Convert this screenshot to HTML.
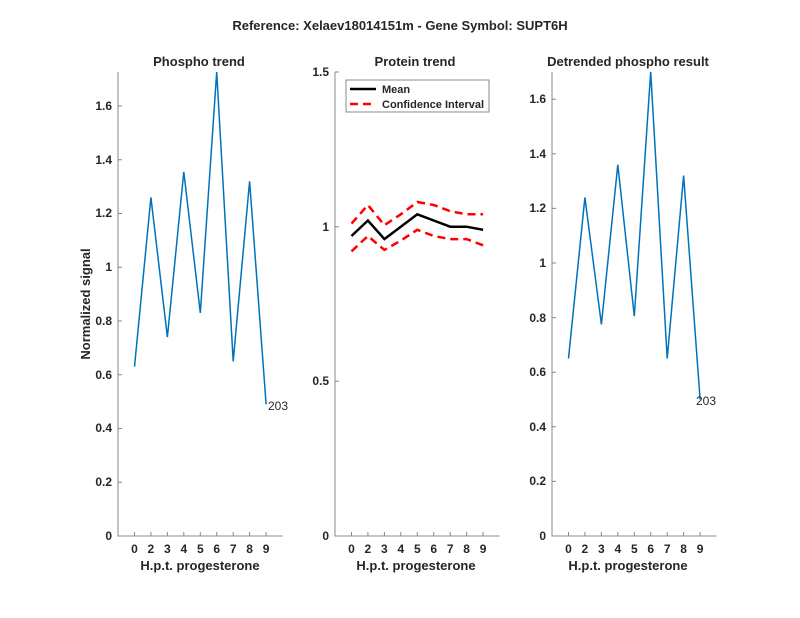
<!DOCTYPE html>
<html><head><style>body{margin:0;background:#fff}svg{display:block}text{font-family:"Liberation Sans",Arial,sans-serif;fill:#262626}</style></head><body>
<svg width="800" height="618" viewBox="0 0 800 618">
<text x="400" y="30" text-anchor="middle" font-size="13" font-weight="bold">Reference:  Xelaev18014151m - Gene Symbol:  SUPT6H</text>
<g font-size="12" font-weight="bold" stroke="none">
<text x="199" y="66" text-anchor="middle" font-size="13">Phospho trend</text>
<path d="M118 72V536H282.5" fill="none" stroke="#888" stroke-width="1"/>
<g stroke="#888"><path d="M118 536h4M118 482.25h4M118 428.5h4M118 374.75h4M118 321h4M118 267.25h4M118 213.5h4M118 159.75h4M118 106h4"/>
<path d="M134.5 536v-4M150.9 536v-4M167.4 536v-4M183.8 536v-4M200.3 536v-4M216.7 536v-4M233.2 536v-4M249.6 536v-4M266.1 536v-4"/></g>
<g text-anchor="end"><text x="112" y="540">0</text><text x="112" y="486">0.2</text><text x="112" y="432">0.4</text><text x="112" y="379">0.6</text><text x="112" y="325">0.8</text><text x="112" y="271">1</text><text x="112" y="217">1.2</text><text x="112" y="164">1.4</text><text x="112" y="110">1.6</text></g>
<g text-anchor="middle"><text x="134.5" y="553">0</text><text x="150.9" y="553">2</text><text x="167.4" y="553">3</text><text x="183.8" y="553">4</text><text x="200.3" y="553">5</text><text x="216.7" y="553">6</text><text x="233.2" y="553">7</text><text x="249.6" y="553">8</text><text x="266.1" y="553">9</text>
<text x="200" y="570" font-size="13">H.p.t. progesterone</text></g>
<text transform="translate(90,304) rotate(-90)" text-anchor="middle" font-size="13">Normalized signal</text>
<polyline points="134.5,366.7 150.9,197.4 167.4,337.1 183.8,171.8 200.3,312.9 216.7,72 233.2,361.3 249.6,181.3 266.1,404.3" fill="none" stroke="#0072BD" stroke-width="1.5"/>
<text x="268" y="410" font-weight="normal" font-size="12" fill="#000">203</text>

<text x="415" y="66" text-anchor="middle" font-size="13">Protein trend</text>
<path d="M335 72V536H499.5" fill="none" stroke="#888"/>
<g stroke="#888"><path d="M335 536h4M335 381.3h4M335 226.7h4M335 72h4"/>
<path d="M351.5 536v-4M367.9 536v-4M384.4 536v-4M400.8 536v-4M417.3 536v-4M433.7 536v-4M450.2 536v-4M466.6 536v-4M483.1 536v-4"/></g>
<g text-anchor="end"><text x="329" y="540">0</text><text x="329" y="385">0.5</text><text x="329" y="231">1</text><text x="329" y="76">1.5</text></g>
<g text-anchor="middle"><text x="351.5" y="553">0</text><text x="367.9" y="553">2</text><text x="384.4" y="553">3</text><text x="400.8" y="553">4</text><text x="417.3" y="553">5</text><text x="433.7" y="553">6</text><text x="450.2" y="553">7</text><text x="466.6" y="553">8</text><text x="483.1" y="553">9</text>
<text x="416" y="570" font-size="13">H.p.t. progesterone</text></g>
<polyline points="351.5,223.6 367.9,205 384.4,225.2 400.8,214.3 417.3,202 433.7,205 450.2,211.2 466.6,214.3 483.1,214.3" fill="none" stroke="#f00" stroke-width="2.5" stroke-dasharray="8,5"/>
<polyline points="351.5,251.4 367.9,236 384.4,249.9 400.8,240.6 417.3,229.8 433.7,236 450.2,239.1 466.6,239.1 483.1,245.3" fill="none" stroke="#f00" stroke-width="2.5" stroke-dasharray="8,5"/>
<polyline points="351.5,236 367.9,220.5 384.4,239.1 400.8,226.7 417.3,214.3 433.7,220.5 450.2,226.7 466.6,226.7 483.1,229.8" fill="none" stroke="#000" stroke-width="2.5"/>
<rect x="346" y="80" width="143" height="32" fill="#fff" stroke="#888"/>
<path d="M350 89h26" stroke="#000" stroke-width="2.5"/>
<path d="M350 104h26" stroke="#f00" stroke-width="2.5" stroke-dasharray="8,5"/>
<text x="382" y="93" fill="#000" font-size="11">Mean</text>
<text x="382" y="108" fill="#000" font-size="11">Confidence Interval</text>

<text x="628" y="66" text-anchor="middle" font-size="13">Detrended phospho result</text>
<path d="M552 72V536H716.5" fill="none" stroke="#888"/>
<g stroke="#888"><path d="M552 536h4M552 481.4h4M552 426.8h4M552 372.2h4M552 317.6h4M552 263h4M552 208.4h4M552 153.8h4M552 99.2h4"/>
<path d="M568.5 536v-4M584.9 536v-4M601.4 536v-4M617.8 536v-4M634.3 536v-4M650.7 536v-4M667.2 536v-4M683.6 536v-4M700.1 536v-4"/></g>
<g text-anchor="end"><text x="546" y="540">0</text><text x="546" y="485">0.2</text><text x="546" y="431">0.4</text><text x="546" y="376">0.6</text><text x="546" y="322">0.8</text><text x="546" y="267">1</text><text x="546" y="212">1.2</text><text x="546" y="158">1.4</text><text x="546" y="103">1.6</text></g>
<g text-anchor="middle"><text x="568.5" y="553">0</text><text x="584.9" y="553">2</text><text x="601.4" y="553">3</text><text x="617.8" y="553">4</text><text x="634.3" y="553">5</text><text x="650.7" y="553">6</text><text x="667.2" y="553">7</text><text x="683.6" y="553">8</text><text x="700.1" y="553">9</text>
<text x="628" y="570" font-size="13">H.p.t. progesterone</text></g>
<polyline points="568.5,358.5 584.9,197.5 601.4,324.4 617.8,164.7 634.3,316.2 650.7,71.9 667.2,358.5 683.6,175.6 700.1,399.5" fill="none" stroke="#0072BD" stroke-width="1.5"/>
<text x="696" y="405" font-weight="normal" font-size="12" fill="#000">203</text>
</g>
</svg>
</body></html>
